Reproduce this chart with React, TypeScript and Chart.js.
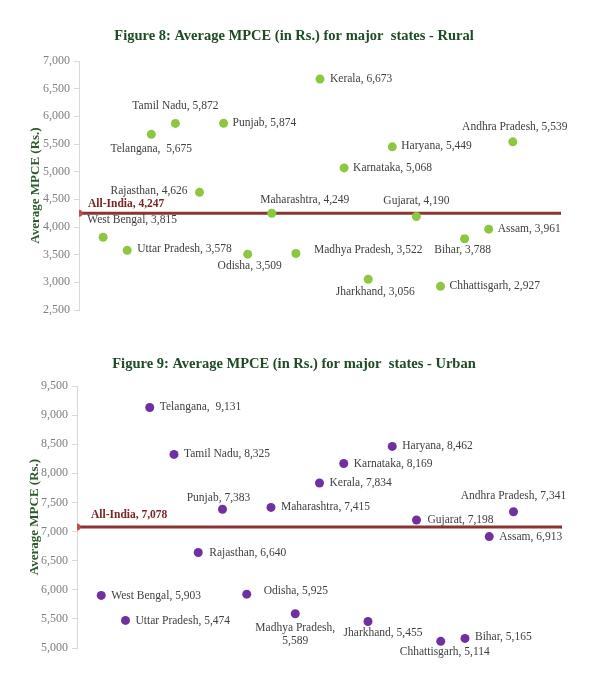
import React, { useEffect, useRef } from 'react';
import { Chart, registerables } from 'chart.js';

Chart.register(...registerables);

// ---------- data ----------
const STATES = [
  'West Bengal', 'Uttar Pradesh', 'Telangana', 'Tamil Nadu', 'Rajasthan', 'Punjab',
  'Odisha', 'Maharashtra', 'Madhya Pradesh', 'Kerala', 'Karnataka', 'Jharkhand',
  'Haryana', 'Gujarat', 'Chhattisgarh', 'Bihar', 'Assam', 'Andhra Pradesh',
];
const RURAL_MPCE = [3815, 3578, 5675, 5872, 4626, 5874, 3509, 4249, 3522, 6673, 5068, 3056, 5449, 4190, 2927, 3788, 3961, 5539];
const URBAN_MPCE = [5903, 5474, 9131, 8325, 6640, 7383, 5925, 7415, 5589, 7834, 8169, 5455, 8462, 7198, 5114, 5165, 6913, 7341];
const ALL_INDIA_RURAL = 4247;
const ALL_INDIA_URBAN = 7078;
const RURAL_TICKS = [2500, 3000, 3500, 4000, 4500, 5000, 5500, 6000, 6500, 7000];
const URBAN_TICKS = [5000, 5500, 6000, 6500, 7000, 7500, 8000, 8500, 9000, 9500];
const TITLE_RURAL = 'Figure 8: Average MPCE (in Rs.) for major  states - Rural';
const TITLE_URBAN = 'Figure 9: Average MPCE (in Rs.) for major  states - Urban';
const AXIS_TITLE = 'Average MPCE (Rs.)';

// ---------- label placement (style) ----------
type Place = { dx: number; dy: number; align: CanvasTextAlign; wrap?: boolean; gap?: boolean };
const P = (dx: number, dy: number, align: CanvasTextAlign, extra: Partial<Place> = {}): Place => ({ dx, dy, align, ...extra });

const RURAL_PLACE: Place[] = [
  P(29, -17, 'center'), P(10, -1, 'left'), P(0, 15, 'center', { gap: true }), P(0, -17, 'center'),
  P(-12, -1, 'right'), P(9, 0, 'left'), P(2, 12, 'center'), P(33, -13, 'center'),
  P(18, -3, 'left'), P(10, 0, 'left'), P(9, 0, 'left'), P(7, 13, 'center'),
  P(9, -1, 'left'), P(0, -16, 'center'), P(9, 0, 'left'), P(-2, 11, 'center'),
  P(9, 0, 'left'), P(2, -15, 'center'),
];
const URBAN_PLACE: Place[] = [
  P(10, 1, 'left'), P(10, 1, 'left'), P(10, 0, 'left', { gap: true }), P(10, 0, 'left'),
  P(11, 0, 'left'), P(-4, -11, 'center'), P(17, -3, 'left'), P(10, 0, 'left'),
  P(0, 14, 'center', { wrap: true }), P(10, 0, 'left'), P(10, 0, 'left'), P(15, 11, 'center'),
  P(10, 0, 'left'), P(11, 0, 'left'), P(4, 11, 'center'), P(10, -1, 'left'),
  P(10, 0, 'left'), P(0, -16, 'center'),
];

const FONT = '"Liberation Serif", "Times New Roman", serif';
const fmt = (v: number) => v.toLocaleString('en-US');

function makeLabelPlugin(values: number[], places: Place[], allIndia: number, aiDx: number, aiDy: number) {
  return {
    id: 'mpceLabels',
    afterDatasetsDraw(chart: any) {
      const { ctx } = chart;
      ctx.save();
      ctx.textBaseline = 'middle';
      ctx.font = `11.5px ${FONT}`;
      ctx.fillStyle = '#404040';
      const meta = chart.getDatasetMeta(0);
      meta.data.forEach((pt: any, i: number) => {
        const pl = places[i];
        const sep = pl.gap ? ',  ' : ', ';
        const lines = pl.wrap ? [STATES[i] + ',', fmt(values[i])] : [STATES[i] + sep + fmt(values[i])];
        ctx.textAlign = pl.align;
        lines.forEach((ln, k) => ctx.fillText(ln, pt.x + pl.dx, pt.y + pl.dy + k * 13));
      });
      const line = chart.getDatasetMeta(1).data[0];
      ctx.font = `bold 11.5px ${FONT}`;
      ctx.fillStyle = '#7b2424';
      ctx.textAlign = 'left';
      ctx.fillText(`All-India, ${fmt(allIndia)}`, line.x + aiDx, line.y + aiDy);
      ctx.restore();
    },
  };
}

function buildConfig(opts: {
  values: number[]; ticks: number[]; allIndia: number; color: string; title: string;
  titlePad: { top: number; bottom: number }; padLeft: number; axisWidth: number; padRight: number; padBottom: number;
  places: Place[]; aiDx: number; aiDy: number;
}): any {
  const { values, ticks } = opts;
  return {
    type: 'scatter',
    data: {
      datasets: [
        {
          type: 'scatter',
          data: STATES.map((_, i) => ({ x: i + 1, y: values[i] })),
          backgroundColor: opts.color,
          borderWidth: 0,
          pointRadius: 4.5,
          pointHoverRadius: 4.5,
        },
        {
          type: 'line',
          data: [{ x: 0, y: opts.allIndia }, { x: 20, y: opts.allIndia }],
          borderColor: '#8b3434',
          backgroundColor: '#c0504d',
          borderWidth: 3,
          pointRadius: [3.5, 1.5],
          pointBorderWidth: 0,
          pointBackgroundColor: ['#c0504d', '#8b3434'],
          fill: false,
        },
      ],
    },
    options: {
      animation: false,
      responsive: false,
      events: [],
      layout: { padding: { left: opts.padLeft, right: opts.padRight, top: 0, bottom: opts.padBottom } },
      plugins: {
        legend: { display: false },
        tooltip: { enabled: false },
        title: {
          display: true,
          text: opts.title,
          color: '#1e4a25',
          font: { family: FONT, size: 14.5, weight: 'bold' },
          padding: opts.titlePad,
        },
      },
      scales: {
        x: { type: 'linear', min: 0, max: 20, display: false },
        y: {
          type: 'linear',
          min: ticks[0],
          max: ticks[ticks.length - 1],
          afterFit: (s: any) => { s.width = opts.axisWidth; },
          afterBuildTicks: (s: any) => { s.ticks = ticks.map((v) => ({ value: v })); },
          border: { display: true, color: '#d9d9d9', width: 1 },
          grid: { drawOnChartArea: false, drawTicks: true, tickLength: 5, color: '#d9d9d9' },
          ticks: {
            padding: 4,
            color: '#808080',
            font: { family: FONT, size: 12 },
            callback: (v: any) => fmt(Number(v)),
          },
          title: {
            display: true,
            text: AXIS_TITLE,
            color: '#2c5a2c',
            font: { family: FONT, size: 13, weight: 'bold' },
            padding: { top: 1, bottom: 0 },
          },
        },
      },
    },
    plugins: [makeLabelPlugin(values, opts.places, opts.allIndia, opts.aiDx, opts.aiDy)],
  };
}

function ChartCanvas({ config, width, height, top }: { config: any; width: number; height: number; top: number }) {
  const ref = useRef<HTMLCanvasElement | null>(null);
  useEffect(() => {
    if (!ref.current) return;
    const chart = new Chart(ref.current, config);
    return () => chart.destroy();
  }, [config]);
  return (
    <canvas
      ref={ref}
      width={width}
      height={height}
      style={{ position: 'absolute', left: 0, top, width, height, display: 'block' }}
    />
  );
}

const ruralConfig = buildConfig({
  values: RURAL_MPCE, ticks: RURAL_TICKS, allIndia: ALL_INDIA_RURAL, color: '#8dc63f', title: TITLE_RURAL,
  titlePad: { top: 28, bottom: 15.6 }, padLeft: 27, axisWidth: 52, padRight: 50, padBottom: 30,
  places: RURAL_PLACE, aiDx: 9, aiDy: -9,
});
const urbanConfig = buildConfig({
  values: URBAN_MPCE, ticks: URBAN_TICKS, allIndia: ALL_INDIA_URBAN, color: '#7030a0', title: TITLE_URBAN,
  titlePad: { top: 16, bottom: 12.6 }, padLeft: 26, axisWidth: 51, padRight: 49, padBottom: 33,
  places: URBAN_PLACE, aiDx: 14, aiDy: -12,
});

export default function App() {
  return (
    <div style={{ position: 'absolute', left: 0, top: 0, width: 611, height: 681, background: '#fff' }}>
      <ChartCanvas config={ruralConfig} width={611} height={340} top={0} />
      <ChartCanvas config={urbanConfig} width={611} height={341} top={340} />
    </div>
  );
}
